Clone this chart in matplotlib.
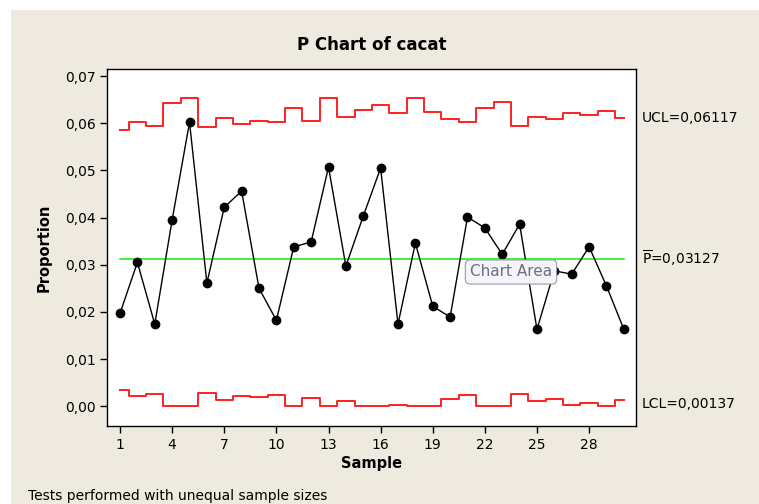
import numpy as np
import matplotlib.pyplot as plt
from matplotlib.patches import Rectangle
from matplotlib.ticker import FuncFormatter

# Sample numbers and observed proportions
samples = np.arange(1, 31)
proportion = [0.0197, 0.0305, 0.0174, 0.0395, 0.0602, 0.0261, 0.0422, 0.0456, 0.0250, 0.0182,
              0.0338, 0.0348, 0.0507, 0.0297, 0.0403, 0.0505, 0.0174, 0.0346, 0.0212, 0.0189,
              0.0401, 0.0378, 0.0322, 0.0386, 0.0163, 0.0287, 0.0280, 0.0338, 0.0255, 0.0163]

# Control limits (vary with unequal sample sizes)
ucl = [0.0586, 0.0602, 0.0595, 0.0642, 0.0653, 0.0592, 0.0611, 0.0598, 0.0605, 0.0602,
       0.0633, 0.0605, 0.0653, 0.0614, 0.0629, 0.0639, 0.0621, 0.0654, 0.0624, 0.0608,
       0.0602, 0.0633, 0.0645, 0.0595, 0.0614, 0.0608, 0.0621, 0.0617, 0.0626, 0.0612]
lcl = [0.0034, 0.0022, 0.0025, 0.0, 0.0, 0.0028, 0.0013, 0.0022, 0.0020, 0.0023,
       0.0, 0.0018, 0.0, 0.0010, 0.0, 0.0, 0.0003, 0.0, 0.0, 0.0016,
       0.0023, 0.0, 0.0, 0.0026, 0.0010, 0.0016, 0.0003, 0.0007, 0.0, 0.0013]
p_bar = 0.03127
ucl_last = 0.06117
lcl_last = 0.00137

xticks = [1, 4, 7, 10, 13, 16, 19, 22, 25, 28]

bg = '#eeeae0'
fig = plt.figure(figsize=(7.59, 5.04), dpi=100)
fig.patch.set_facecolor('white')
fig.patches.append(Rectangle((11 / 759, 0), 1, (504 - 10) / 504, transform=fig.transFigure,
                             facecolor=bg, edgecolor='none', zorder=-10))

ax = fig.add_axes([107 / 759, 78 / 504, 529 / 759, 357 / 504])
ax.set_facecolor('white')

ax.step(samples, ucl, where='mid', color='#ff2020', lw=1.4)
ax.step(samples, lcl, where='mid', color='#ff2020', lw=1.4)
ax.plot([samples[0], samples[-1]], [p_bar, p_bar], color='#22ee22', lw=1.2)
ax.plot(samples, proportion, color='black', lw=1.0, marker='o', markersize=6)

ax.set_xlim(0.25, 30.7)
ax.set_ylim(-0.0042, 0.0715)
ax.set_xticks(xticks)
ax.set_yticks(np.arange(0, 0.071, 0.01))
ax.yaxis.set_major_formatter(FuncFormatter(lambda v, p: f'{v:.2f}'.replace('.', ',')))
ax.tick_params(direction='out', length=5, width=1, labelsize=10, colors='black')
ax.tick_params(axis='y', pad=3)
for s in ax.spines.values():
    s.set_linewidth(1.0)

ax.set_title('P Chart of cacat', fontsize=12, fontweight='bold', pad=14)
ax.set_xlabel('Sample', fontsize=10.5, fontweight='bold', labelpad=3)
ax.set_ylabel('Proportion', fontsize=10.5, fontweight='bold', labelpad=10)

tr = ax.get_yaxis_transform()
ax.text(1.011, ucl_last, 'UCL=0,06117', transform=tr, va='center', ha='left', fontsize=10)
ax.text(1.011, p_bar, r'$\overline{\mathregular{P}}$=0,03127', transform=tr, va='center',
        ha='left', fontsize=10)
ax.text(1.011, lcl_last - 0.0008, 'LCL=0,00137', transform=tr, va='center', ha='left', fontsize=10)

# tooltip left over from the screenshot
fig.text(511 / 759, 1 - 272 / 504, 'Chart Area', ha='center', va='center', fontsize=11,
         color='#6b7080', zorder=10,
         bbox=dict(boxstyle='round,pad=0.3', facecolor='#f4f4fa', edgecolor='#9a9aa4', lw=0.8))

fig.text(28 / 759, 1 - 496 / 504, 'Tests performed with unequal sample sizes', ha='left',
         va='center', fontsize=10)

fig.savefig('out.png', dpi=100, facecolor=fig.get_facecolor())
